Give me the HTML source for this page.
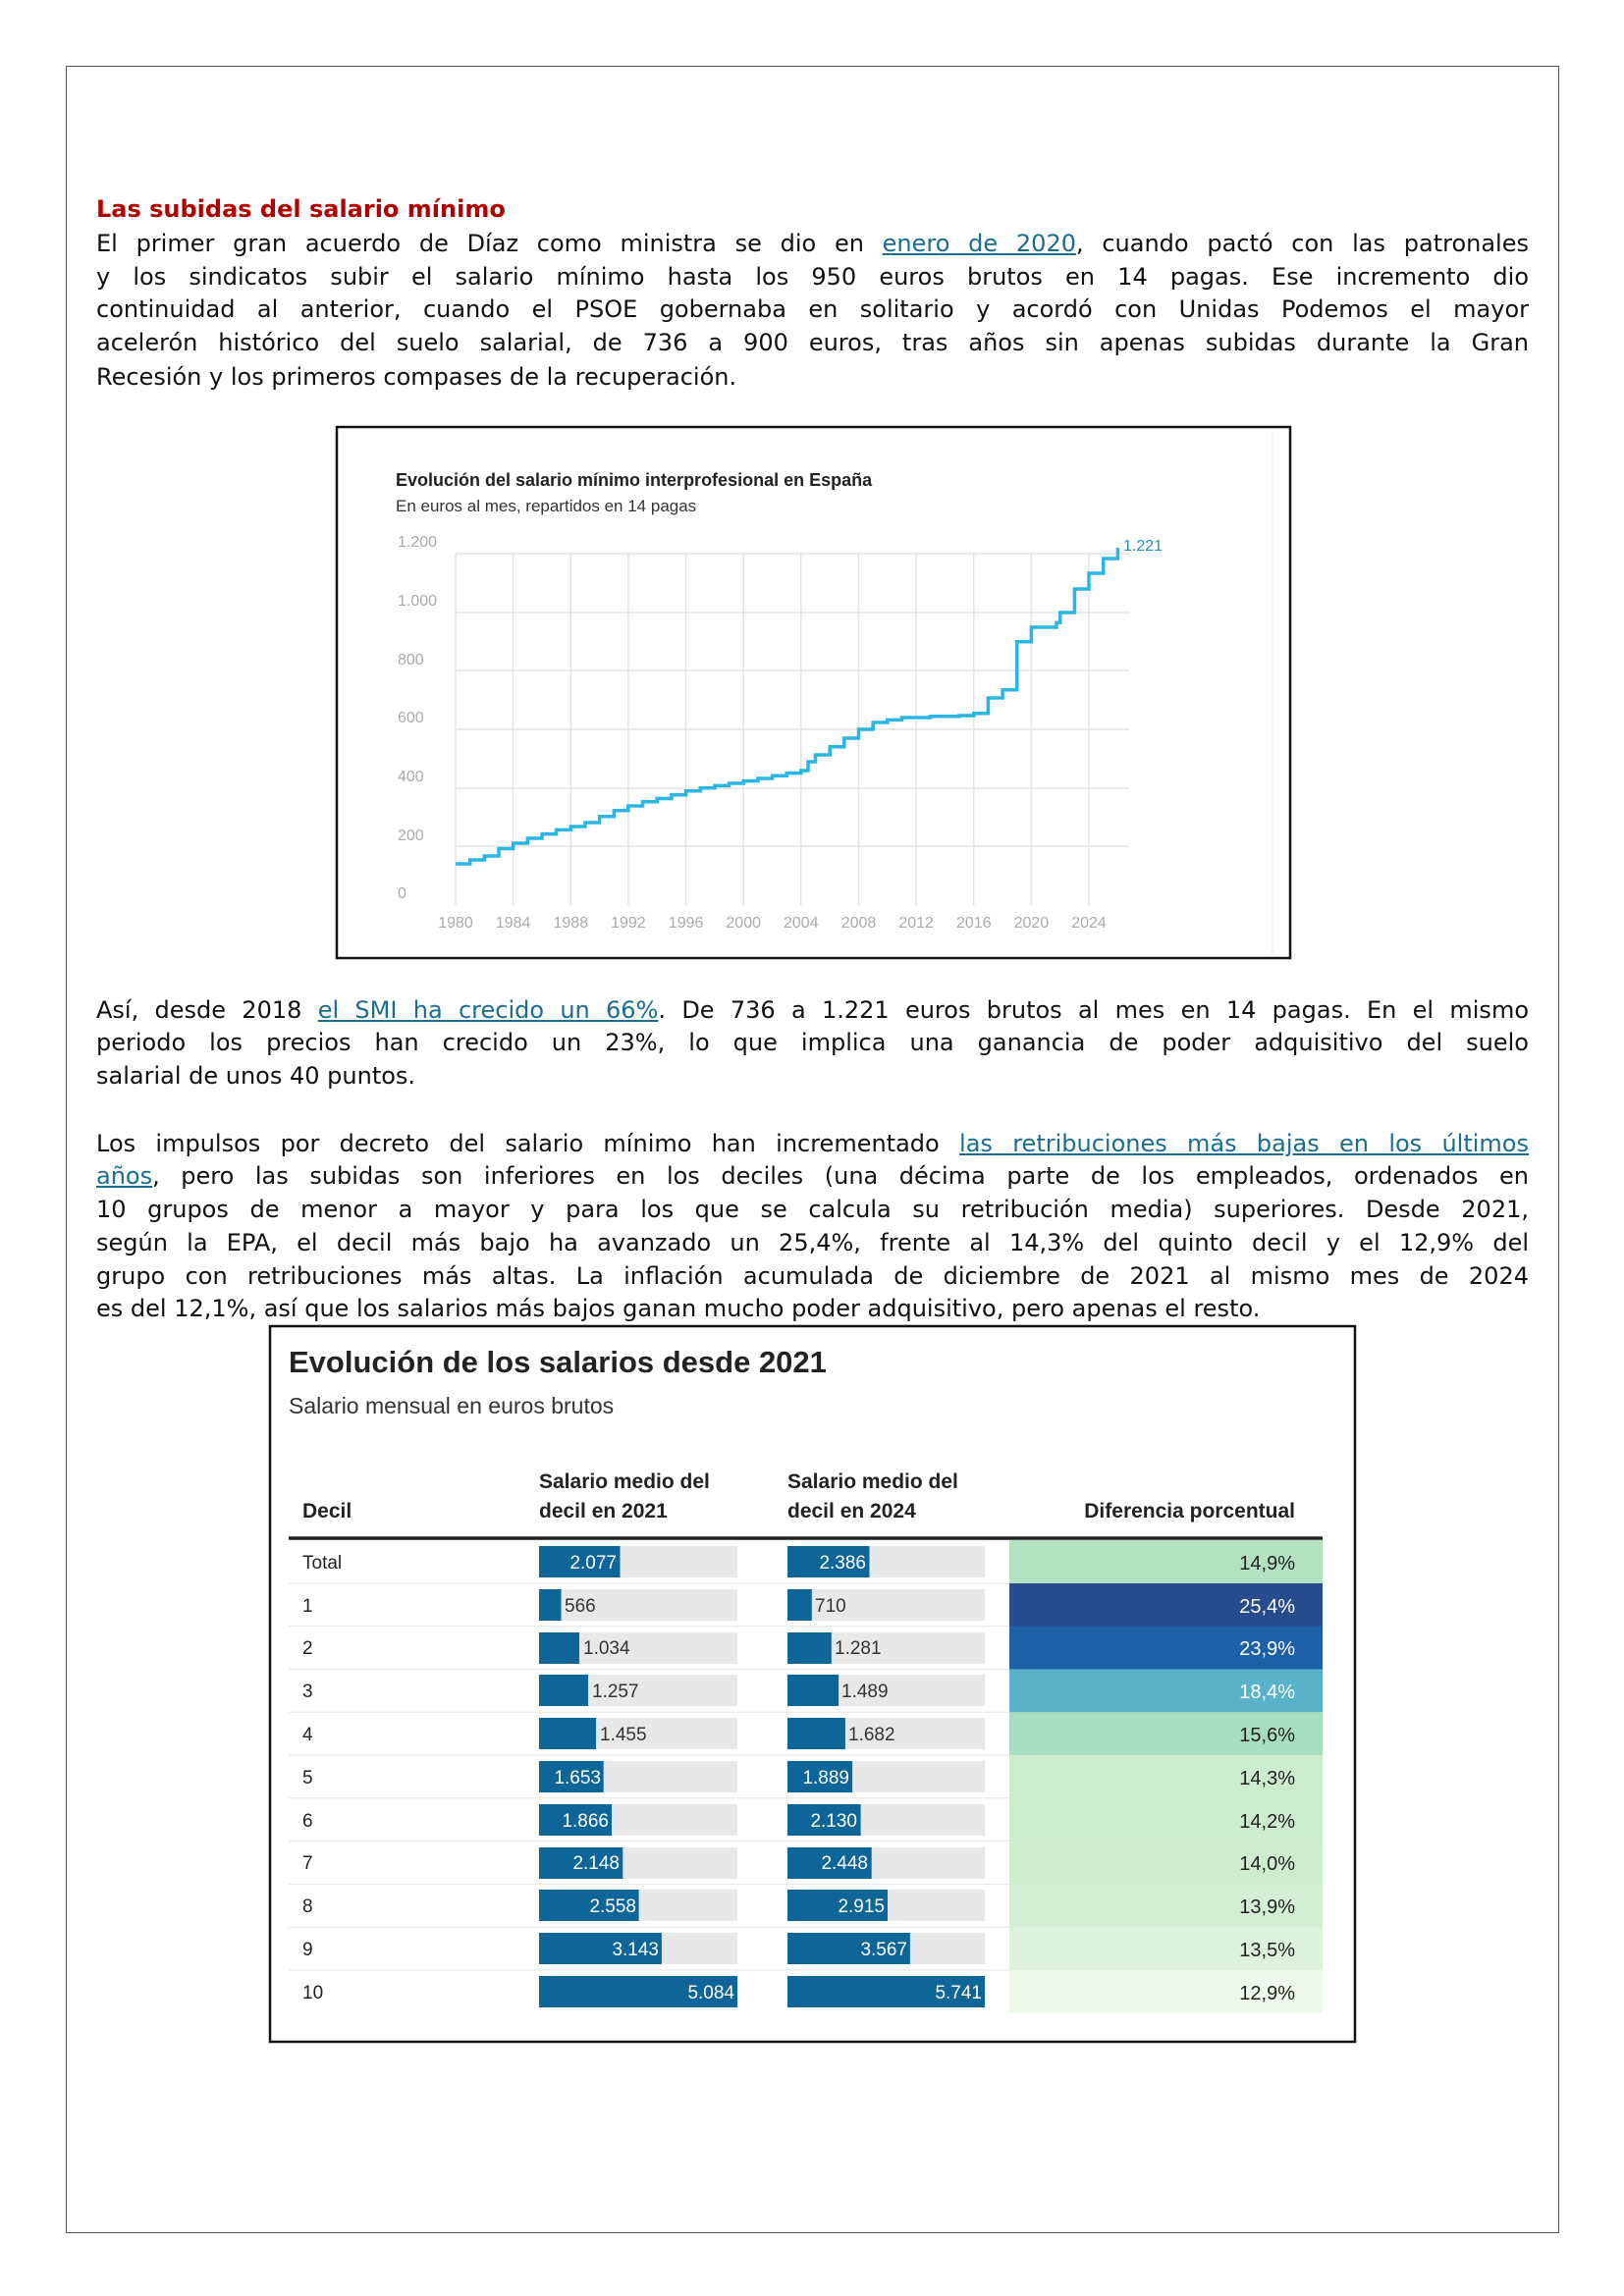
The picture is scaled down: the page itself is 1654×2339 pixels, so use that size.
<!DOCTYPE html>
<html><head><meta charset="utf-8">
<style>
*{margin:0;padding:0;box-sizing:border-box}
body{width:1654px;height:2339px;background:#fff;position:relative;overflow:hidden;font-family:"DejaVu Sans","Liberation Sans",sans-serif;color:#111}
.frame{position:absolute;left:67px;top:67px;width:1521px;height:2208px;border:1.5px solid #555}
.ln{position:absolute;left:98px;width:1459px;font-size:24px;line-height:30px;white-space:nowrap}
.j{text-align:justify;text-align-last:justify;white-space:normal}
a{color:#1a6d8f;text-decoration:underline}
.h{color:#b00000;font-weight:bold}
</style></head><body>
<div class="frame"></div>

<div class="ln h" style="top:198px">Las subidas del salario mínimo</div>
<div class="ln j" style="top:233px">El primer gran acuerdo de Díaz como ministra se dio en <a>enero de 2020</a>, cuando pactó con las patronales</div>
<div class="ln j" style="top:267px">y los sindicatos subir el salario mínimo hasta los 950 euros brutos en 14 pagas. Ese incremento dio</div>
<div class="ln j" style="top:300px">continuidad al anterior, cuando el PSOE gobernaba en solitario y acordó con Unidas Podemos el mayor</div>
<div class="ln j" style="top:334px">acelerón histórico del suelo salarial, de 736 a 900 euros, tras años sin apenas subidas durante la Gran</div>
<div class="ln" style="top:369px">Recesión y los primeros compases de la recuperación.</div>

<div class="ln j" style="top:1014px">Así, desde 2018 <a>el SMI ha crecido un 66%</a>. De 736 a 1.221 euros brutos al mes en 14 pagas. En el mismo</div>
<div class="ln j" style="top:1047px">periodo los precios han crecido un 23%, lo que implica una ganancia de poder adquisitivo del suelo</div>
<div class="ln" style="top:1081px">salarial de unos 40 puntos.</div>

<div class="ln j" style="top:1150px">Los impulsos por decreto del salario mínimo han incrementado <a>las retribuciones más bajas en los últimos</a></div>
<div class="ln j" style="top:1183px"><a>años</a>, pero las subidas son inferiores en los deciles (una décima parte de los empleados, ordenados en</div>
<div class="ln j" style="top:1217px">10 grupos de menor a mayor y para los que se calcula su retribución media) superiores. Desde 2021,</div>
<div class="ln j" style="top:1251px">según la EPA, el decil más bajo ha avanzado un 25,4%, frente al 14,3% del quinto decil y el 12,9% del</div>
<div class="ln j" style="top:1285px">grupo con retribuciones más altas. La inflación acumulada de diciembre de 2021 al mismo mes de 2024</div>
<div class="ln" style="top:1318px">es del 12,1%, así que los salarios más bajos ganan mucho poder adquisitivo, pero apenas el resto.</div>

<svg style="position:absolute;left:0;top:0" width="1654" height="2339" viewBox="0 0 1654 2339">
<rect x="343" y="435" width="971" height="541" fill="none" stroke="#111" stroke-width="2.5"/>
<line x1="1296" y1="440" x2="1296" y2="972" stroke="#ddd" stroke-width="1"/>
<g font-family="Liberation Sans Narrow, Liberation Sans, sans-serif">
<text x="403" y="495" font-size="18" font-weight="bold" fill="#222">Evolución del salario mínimo interprofesional en España</text>
<text x="403" y="521" font-size="17" fill="#333">En euros al mes, repartidos en 14 pagas</text>
</g>
<g stroke="#e3e3e3" stroke-width="1.5">
<line x1="464" y1="564" x2="1150" y2="564"/><line x1="464" y1="624" x2="1150" y2="624"/><line x1="464" y1="683" x2="1150" y2="683"/><line x1="464" y1="743" x2="1150" y2="743"/><line x1="464" y1="803" x2="1150" y2="803"/><line x1="464" y1="862" x2="1150" y2="862"/>
<line x1="464" y1="564" x2="464" y2="922"/><line x1="522.6" y1="564" x2="522.6" y2="922"/><line x1="581.3" y1="564" x2="581.3" y2="922"/><line x1="639.9" y1="564" x2="639.9" y2="922"/><line x1="698.6" y1="564" x2="698.6" y2="922"/><line x1="757.2" y1="564" x2="757.2" y2="922"/><line x1="815.8" y1="564" x2="815.8" y2="922"/><line x1="874.5" y1="564" x2="874.5" y2="922"/><line x1="933.1" y1="564" x2="933.1" y2="922"/><line x1="991.8" y1="564" x2="991.8" y2="922"/><line x1="1050.4" y1="564" x2="1050.4" y2="922"/><line x1="1109" y1="564" x2="1109" y2="922"/>
</g>
<g font-family="Liberation Sans Narrow, Liberation Sans, sans-serif" font-size="16" fill="#aaa">
<text x="405" y="557">1.200</text><text x="405" y="617">1.000</text><text x="405" y="677">800</text><text x="405" y="736">600</text><text x="405" y="796">400</text><text x="405" y="856">200</text><text x="405" y="915">0</text>
<g text-anchor="middle">
<text x="464" y="945">1980</text><text x="522.6" y="945">1984</text><text x="581.3" y="945">1988</text><text x="639.9" y="945">1992</text><text x="698.6" y="945">1996</text><text x="757.2" y="945">2000</text><text x="815.8" y="945">2004</text><text x="874.5" y="945">2008</text><text x="933.1" y="945">2012</text><text x="991.8" y="945">2016</text><text x="1050.4" y="945">2020</text><text x="1109" y="945">2024</text>
</g>
<text x="1144" y="561" fill="#1f8fb5">1.221</text>
</g>
<path d="M464,880 H478.7 V876 H493.3 V872 H508 V864.5 H522.6 V859 H537.3 V854 H552 V849.6 H566.6 V845.4 H581.3 V842 H595.9 V838 H610.6 V831.7 H625.3 V825.7 H639.9 V821 H654.6 V816.8 H669.2 V813.5 H683.9 V809.7 H698.6 V805.8 H713.2 V802.8 H727.9 V800.4 H742.5 V798 H757.2 V795.6 H771.9 V793 H786.5 V790.3 H801.2 V787.6 H815.8 V785 H823 V776 H830.5 V769 H845.2 V760.8 H859.8 V752 H874.5 V743 H889.1 V736 H903.8 V733.4 H918.5 V731 H947.8 V729.8 H977.1 V729 H991.8 V726.8 H1006.4 V711 H1021.1 V702.7 H1035.7 V653.8 H1050.4 V639 H1076 V634.4 H1079.7 V624 H1094.4 V600 H1109 V584 H1123.7 V569 H1138.4 V558" fill="none" stroke="#2bb5e2" stroke-width="3.5"/>

<rect x="275" y="1351" width="1105" height="729" fill="none" stroke="#111" stroke-width="2.5"/>
<g font-family="Liberation Sans Narrow, Liberation Sans, sans-serif">
<text x="294" y="1398" font-size="31" font-weight="bold" fill="#222">Evolución de los salarios desde 2021</text>
<text x="294" y="1440" font-size="23" fill="#333">Salario mensual en euros brutos</text>
<g font-size="21" font-weight="bold" fill="#222">
<text x="308" y="1546">Decil</text>
<text x="549" y="1516">Salario medio del</text><text x="549" y="1546">decil en 2021</text>
<text x="802" y="1516">Salario medio del</text><text x="802" y="1546">decil en 2024</text>
<text x="1319" y="1546" text-anchor="end">Diferencia porcentual</text>
</g>
<line x1="294" y1="1567" x2="1347" y2="1567" stroke="#222" stroke-width="3.5"/>
</g>
<g font-family="Liberation Sans Narrow, Liberation Sans, sans-serif" font-size="19">
<g stroke="#e6e6e6" stroke-width="1">
<line x1="294" y1="1613" x2="1028" y2="1613"/><line x1="294" y1="1656.6" x2="1028" y2="1656.6"/><line x1="294" y1="1700.4" x2="1028" y2="1700.4"/><line x1="294" y1="1744.2" x2="1028" y2="1744.2"/><line x1="294" y1="1788" x2="1028" y2="1788"/><line x1="294" y1="1831.8" x2="1028" y2="1831.8"/><line x1="294" y1="1875.6" x2="1028" y2="1875.6"/><line x1="294" y1="1919.4" x2="1028" y2="1919.4"/><line x1="294" y1="1963.2" x2="1028" y2="1963.2"/><line x1="294" y1="2007" x2="1028" y2="2007"/>
</g>
<rect x="1028" y="1569" width="319" height="44" fill="#b3e2c0"/>
<rect x="1028" y="1613" width="319" height="44" fill="#274b8c"/>
<rect x="1028" y="1656.6" width="319" height="44" fill="#1c60a8"/>
<rect x="1028" y="1700.4" width="319" height="44" fill="#5ab2c9"/>
<rect x="1028" y="1744.2" width="319" height="44" fill="#a9ddc2"/>
<rect x="1028" y="1788" width="319" height="44" fill="#cdebcd"/>
<rect x="1028" y="1831.8" width="319" height="44" fill="#cdebcd"/>
<rect x="1028" y="1875.6" width="319" height="44" fill="#cfeccf"/>
<rect x="1028" y="1919.4" width="319" height="44" fill="#d3eed2"/>
<rect x="1028" y="1963.2" width="319" height="44" fill="#ddf2da"/>
<rect x="1028" y="2007" width="319" height="44" fill="#eef8eb"/>
<g fill="#e8e8e8">
<rect x="549" y="1575" width="202" height="32"/><rect x="549" y="1619" width="202" height="32"/><rect x="549" y="1663" width="202" height="32"/><rect x="549" y="1706" width="202" height="32"/><rect x="549" y="1750" width="202" height="32"/><rect x="549" y="1794" width="202" height="32"/><rect x="549" y="1838" width="202" height="32"/><rect x="549" y="1882" width="202" height="32"/><rect x="549" y="1925" width="202" height="32"/><rect x="549" y="1969" width="202" height="32"/><rect x="549" y="2013" width="202" height="32"/>
<rect x="802" y="1575" width="201" height="32"/><rect x="802" y="1619" width="201" height="32"/><rect x="802" y="1663" width="201" height="32"/><rect x="802" y="1706" width="201" height="32"/><rect x="802" y="1750" width="201" height="32"/><rect x="802" y="1794" width="201" height="32"/><rect x="802" y="1838" width="201" height="32"/><rect x="802" y="1882" width="201" height="32"/><rect x="802" y="1925" width="201" height="32"/><rect x="802" y="1969" width="201" height="32"/><rect x="802" y="2013" width="201" height="32"/>
</g>
<g fill="#0d6598">
<rect x="549" y="1575" width="82.5" height="32"/><rect x="549" y="1619" width="22.5" height="32"/><rect x="549" y="1663" width="41" height="32"/><rect x="549" y="1706" width="50" height="32"/><rect x="549" y="1750" width="58" height="32"/><rect x="549" y="1794" width="65.7" height="32"/><rect x="549" y="1838" width="74" height="32"/><rect x="549" y="1882" width="85.3" height="32"/><rect x="549" y="1925" width="101.6" height="32"/><rect x="549" y="1969" width="124.9" height="32"/><rect x="549" y="2013" width="202" height="32"/>
<rect x="802" y="1575" width="83.5" height="32"/><rect x="802" y="1619" width="24.8" height="32"/><rect x="802" y="1663" width="44.8" height="32"/><rect x="802" y="1706" width="52.1" height="32"/><rect x="802" y="1750" width="58.9" height="32"/><rect x="802" y="1794" width="66.1" height="32"/><rect x="802" y="1838" width="74.6" height="32"/><rect x="802" y="1882" width="85.7" height="32"/><rect x="802" y="1925" width="102" height="32"/><rect x="802" y="1969" width="124.9" height="32"/><rect x="802" y="2013" width="201" height="32"/>
</g>
<g fill="#222">
<text x="308" y="1598">Total</text><text x="308" y="1642">1</text><text x="308" y="1685">2</text><text x="308" y="1729">3</text><text x="308" y="1773">4</text><text x="308" y="1817">5</text><text x="308" y="1861">6</text><text x="308" y="1904">7</text><text x="308" y="1948">8</text><text x="308" y="1992">9</text><text x="308" y="2036">10</text>
</g>
<g fill="#fff" text-anchor="end">
<text x="628" y="1598">2.077</text><text x="882" y="1598">2.386</text>
<text x="612" y="1817">1.653</text><text x="865" y="1817">1.889</text>
<text x="620" y="1861">1.866</text><text x="873" y="1861">2.130</text>
<text x="631" y="1904">2.148</text><text x="884" y="1904">2.448</text>
<text x="648" y="1948">2.558</text><text x="901" y="1948">2.915</text>
<text x="671" y="1992">3.143</text><text x="924" y="1992">3.567</text>
<text x="748" y="2036">5.084</text><text x="1000" y="2036">5.741</text>
</g>
<g fill="#333">
<text x="575" y="1642">566</text><text x="830" y="1642">710</text>
<text x="594" y="1685">1.034</text><text x="850" y="1685">1.281</text>
<text x="603" y="1729">1.257</text><text x="857" y="1729">1.489</text>
<text x="611" y="1773">1.455</text><text x="864" y="1773">1.682</text>
</g>
<g text-anchor="end" font-size="20">
<text x="1319" y="1599" fill="#222">14,9%</text>
<text x="1319" y="1643" fill="#fff">25,4%</text>
<text x="1319" y="1686" fill="#fff">23,9%</text>
<text x="1319" y="1730" fill="#fff">18,4%</text>
<text x="1319" y="1774" fill="#222">15,6%</text>
<text x="1319" y="1818" fill="#222">14,3%</text>
<text x="1319" y="1862" fill="#222">14,2%</text>
<text x="1319" y="1905" fill="#222">14,0%</text>
<text x="1319" y="1949" fill="#222">13,9%</text>
<text x="1319" y="1993" fill="#222">13,5%</text>
<text x="1319" y="2037" fill="#222">12,9%</text>
</g>
</g>
</svg>
</body></html>
